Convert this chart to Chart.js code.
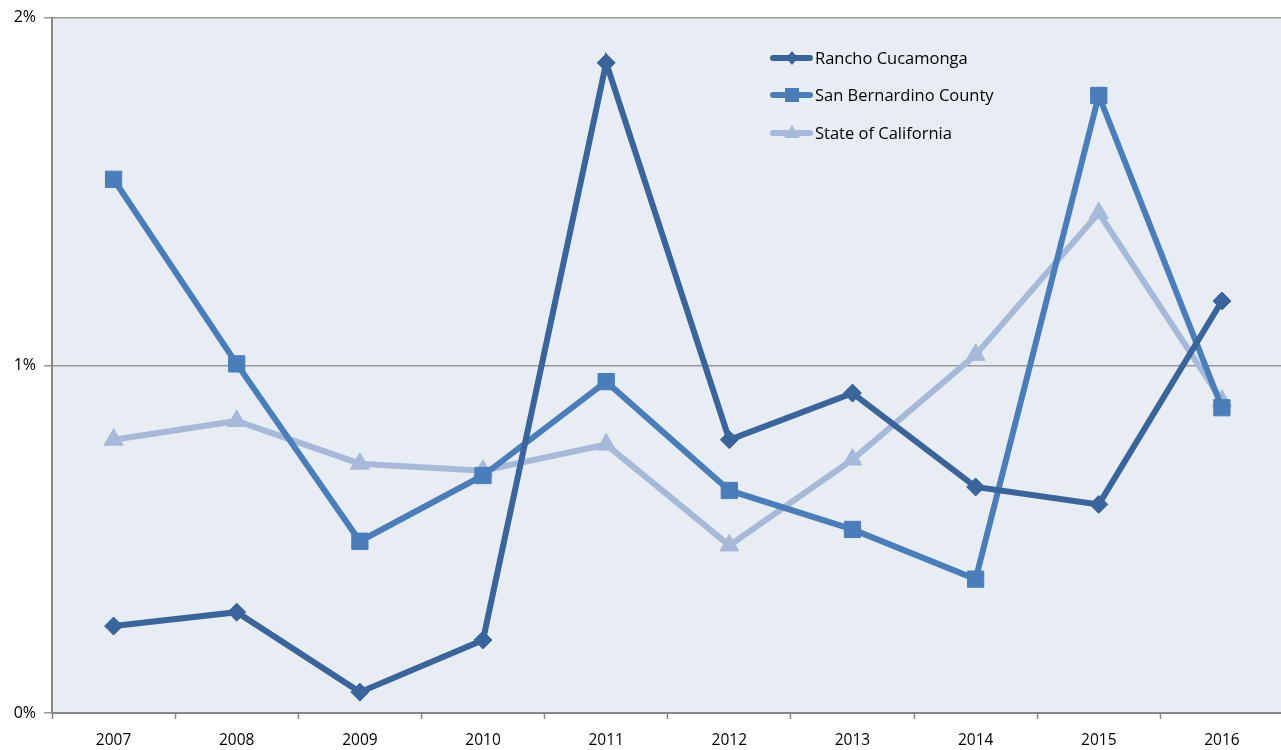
<!DOCTYPE html>
<html><head><meta charset="utf-8">
<script src="https://cdn.jsdelivr.net/npm/chart.js@4/dist/chart.umd.min.js"></script>
<style>html,body{margin:0;padding:0;background:#fff;overflow:hidden}#wrap{width:1281px;height:750px;overflow:hidden}</style>
</head><body><div id="wrap"><canvas id="c" width="1296" height="750"></canvas></div>
<script>
const years = ['2007','2008','2009','2010','2011','2012','2013','2014','2015','2016'];
const rancho = [0.25,0.29,0.06,0.21,1.87,0.786,0.92,0.65,0.60,1.185];
const sanBern = [1.535,1.004,0.494,0.683,0.953,0.64,0.528,0.385,1.776,0.878];
const stateCA = [0.786,0.84,0.717,0.697,0.772,0.482,0.729,1.03,1.438,0.898];
const seriesNames = ['Rancho Cucamonga','San Bernardino County','State of California'];
const FONT = '"Open Sans", "Noto Sans", sans-serif';

const bgPlugin = {
  id:'bg',
  beforeDraw(chart){
    const {ctx, chartArea:a} = chart;
    ctx.save(); ctx.fillStyle='#E8EDF4';
    ctx.fillRect(a.left,a.top,a.right-a.left,a.bottom-a.top); ctx.restore();
  }
};
const legendPlugin = {
  id:'customLegend',
  afterDatasetsDraw(chart){
    const ctx = chart.ctx;
    const x0 = 770, ys=[58,95,133];
    chart.data.datasets.forEach((ds,i)=>{
      const y = ys[i];
      ctx.save();
      ctx.strokeStyle = ds.borderColor; ctx.lineWidth = 6; ctx.lineCap='round';
      ctx.beginPath(); ctx.moveTo(x0+3,y); ctx.lineTo(x0+40,y); ctx.stroke();
      ctx.fillStyle = ds.borderColor;
      const cx = x0+22, r=6;
      ctx.beginPath();
      if(ds.pointStyle==='rectRot'){ctx.moveTo(cx,y-r-1);ctx.lineTo(cx+r,y);ctx.lineTo(cx,y+r+1);ctx.lineTo(cx-r,y);}
      else if(ds.pointStyle==='rect'){ctx.rect(cx-7,y-7,14,14);}
      else {ctx.moveTo(cx,y-8);ctx.lineTo(cx+8,y+5);ctx.lineTo(cx-8,y+5);}
      ctx.closePath(); ctx.fill();
      ctx.fillStyle='#000'; ctx.font='16.5px '+FONT; ctx.textBaseline='middle';
      ctx.fillText(ds.label, x0+45, y+1);
      ctx.restore();
    });
  }
};

new Chart(document.getElementById('c'),{
  type:'line',
  data:{labels:years,datasets:[
    {label:seriesNames[0],data:rancho,borderColor:'#39649C',backgroundColor:'#39649C',borderWidth:6,pointStyle:'rectRot',pointRadius:9,pointHoverRadius:9,pointBorderWidth:1,tension:0,order:1},
    {label:seriesNames[1],data:sanBern,borderColor:'#4A7EBB',backgroundColor:'#4A7EBB',borderWidth:6,pointStyle:'rect',pointRadius:11.5,pointHoverRadius:11.5,pointBorderWidth:1,tension:0,order:2},
    {label:seriesNames[2],data:stateCA,borderColor:'#A7B9D9',backgroundColor:'#A7B9D9',borderWidth:6,pointStyle:'triangle',pointRadius:11,pointHoverRadius:11,pointBorderWidth:1,tension:0,order:3}
  ]},
  options:{
    responsive:false,animation:false,
    layout:{padding:{top:16,right:0,left:0,bottom:0}},
    plugins:{legend:{display:false},tooltip:{enabled:false}},
    scales:{
      x:{offset:true,
        grid:{offset:true,drawOnChartArea:false,tickLength:6,tickColor:'#888',tickWidth:1.5},
        border:{color:'#888',width:2},
        ticks:{color:'#000',font:{family:FONT,size:15.5},padding:12},
        afterFit(s){s.height=37;}
      },
      y:{min:0,max:2,
        ticks:{stepSize:1,color:'#000',font:{family:FONT,size:16},padding:8,callback:v=>v+'%'},
        grid:{color:'#999',lineWidth:1.5,tickLength:8,tickColor:'#999'},
        border:{color:'#888',width:2},
        afterFit(s){s.width=52;}
      }
    }
  },
  plugins:[bgPlugin,legendPlugin]
});
</script></body></html>
